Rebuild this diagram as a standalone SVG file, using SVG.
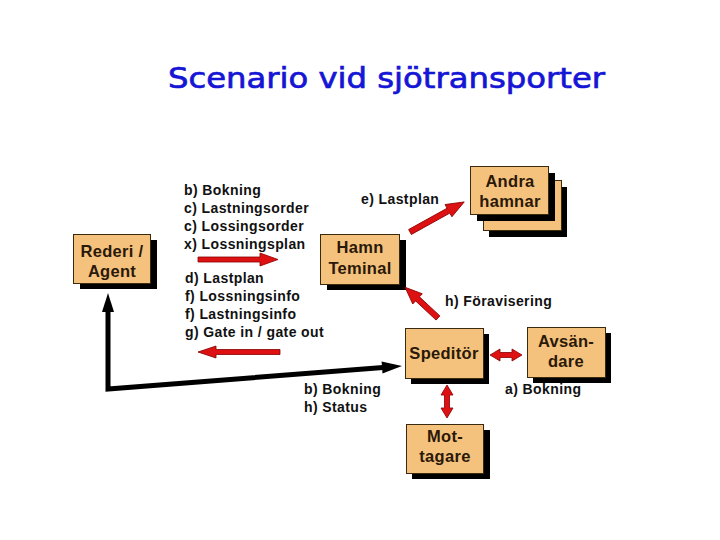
<svg xmlns="http://www.w3.org/2000/svg" width="720" height="540" viewBox="0 0 720 540">
<style>
.title{font-family:"Comic Sans MS","DejaVu Sans",sans-serif;font-size:29px;fill:#1515d5;stroke:#1515d5;stroke-width:0.7}
.lbl{font-family:"Liberation Sans",Arial,sans-serif;font-weight:bold;font-size:14px;letter-spacing:0.4px;fill:#111}
.bt{font-family:"Liberation Sans",Arial,sans-serif;font-weight:bold;font-size:16.5px;letter-spacing:0.3px;fill:#2a1808;text-anchor:middle}
.box{fill:#f5c27d;stroke:#3a2a10;stroke-width:1}
.sh{fill:#000}
.red{fill:#dd1111;stroke:#8a0000;stroke-width:0.8}
.blk{fill:none;stroke:#000;stroke-width:5}
</style>
<rect width="720" height="540" fill="#fff"/>
<text class="title" x="168" y="88" textLength="437" lengthAdjust="spacingAndGlyphs">Scenario vid sjötransporter</text>

<g id="rederi">
<rect class="sh" x="80" y="240" width="77" height="49"/>
<rect class="box" x="73.5" y="234.5" width="77" height="49"/>
<text class="bt" x="112" y="257">Rederi /</text>
<text class="bt" x="112" y="277">Agent</text>
</g>

<g id="hamn">
<rect class="sh" x="327" y="240" width="79" height="50"/>
<rect class="box" x="320.5" y="234.5" width="79" height="50"/>
<text class="bt" x="360" y="253">Hamn</text>
<text class="bt" x="360" y="274">Teminal</text>
</g>

<g id="andra">
<rect class="sh" x="489" y="187" width="78" height="50"/>
<rect class="box" x="483.5" y="180.5" width="78" height="50"/>
<rect class="sh" x="477" y="173" width="78" height="48"/>
<rect class="box" x="470.5" y="166.5" width="78" height="48"/>
<text class="bt" x="510" y="187">Andra</text>
<text class="bt" x="510" y="207">hamnar</text>
</g>

<g id="speditor">
<rect class="sh" x="411" y="334" width="78" height="50"/>
<rect class="box" x="405.5" y="328.5" width="78" height="50"/>
<text class="bt" x="444" y="359">Speditör</text>
</g>

<g id="avsandare">
<rect class="sh" x="533" y="333" width="78" height="50"/>
<rect class="box" x="527.5" y="327.5" width="78" height="50"/>
<text class="bt" x="566" y="347">Avsän-</text>
<text class="bt" x="566" y="367">dare</text>
</g>

<g id="mottagare">
<rect class="sh" x="412" y="430" width="78" height="49"/>
<rect class="box" x="406.5" y="424.5" width="77" height="49"/>
<text class="bt" x="445" y="442">Mot-</text>
<text class="bt" x="445" y="462">tagare</text>
</g>

<g id="connectors">
<polygon class="red" points="198,257 260,257 260,253 278,259.5 260,266 260,262 198,262"/>
<polygon class="red" points="280,349.5 216,349.5 216,346 198,352 216,358 216,354.5 280,354.5"/>
<g transform="translate(410,232) rotate(-29)">
<polygon class="red" points="0,-2.8 44,-2.8 44,-7 62,0 44,7 44,2.8 0,2.8"/>
</g>
<g transform="translate(438,318) rotate(-137)">
<polygon class="red" points="0,-2.8 28,-2.8 28,-7 45,0 28,7 28,2.8 0,2.8"/>
</g>
<polygon class="red" points="490,355 500,349 500,352.5 512,352.5 512,349 522,355 512,361 512,357.5 500,357.5 500,361"/>
<polygon class="red" points="447,385 453,395 449.5,395 449.5,408 453,408 447,418 441,408 444.5,408 444.5,395 441,395"/>
<polyline class="blk" points="108,310 108,389 383,367.5"/>
<polygon fill="#000" points="108,293 114,312 102,312"/>
<polygon fill="#000" points="402,366 382.5,373.5 381.6,361.6"/>
</g>

<g id="labels">
<text class="lbl" x="184" y="195">b) Bokning</text>
<text class="lbl" x="184" y="213">c) Lastningsorder</text>
<text class="lbl" x="184" y="231">c) Lossingsorder</text>
<text class="lbl" x="184" y="249">x) Lossningsplan</text>
<text class="lbl" x="185" y="283">d) Lastplan</text>
<text class="lbl" x="185" y="301">f) Lossningsinfo</text>
<text class="lbl" x="185" y="319">f) Lastningsinfo</text>
<text class="lbl" x="185" y="337">g) Gate in / gate out</text>
<text class="lbl" x="361" y="204">e) Lastplan</text>
<text class="lbl" x="445" y="306">h) Föravisering</text>
<text class="lbl" x="304" y="394">b) Bokning</text>
<text class="lbl" x="304" y="412">h) Status</text>
<text class="lbl" x="505" y="394">a) Bokning</text>
</g>
</svg>
